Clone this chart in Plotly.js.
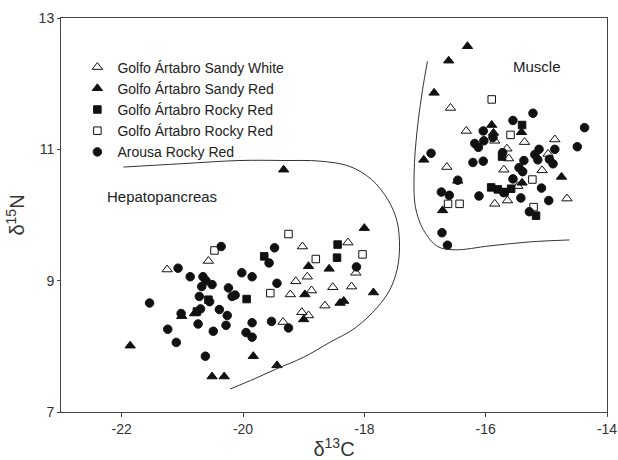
<!DOCTYPE html>
<html>
<head>
<meta charset="utf-8">
<script src="https://cdn.plot.ly/plotly-3.0.1.min.js"></script>
<style>html,body{margin:0;padding:0;background:#fff}#chart{width:618px;height:460px}</style>
</head>
<body>
<div id="chart"></div>
<script>
// Golfo Ártabro Sandy White (open triangles)
const sandyWhiteX = [-20.57,-21.25,-19.02,-18.94,-19.13,-19.22,-18.87,-18.52,-18.21,-18.65,-19.03,-18.92,-19.34,-18.27,-18.14,
  -16.58,-16.32,-15.85,-16.64,-15.85,-15.36,-14.86,-15.65,-15.62,-14.97,-15.70,-15.07,-15.47,-15.64,-14.66];
const sandyWhiteY = [9.30,9.17,9.52,9.06,8.99,8.79,8.85,8.90,8.91,8.62,8.52,8.47,8.37,9.58,9.12,
  11.63,11.28,11.13,10.73,10.17,11.11,11.15,11.01,10.86,10.93,10.69,10.68,10.44,10.22,10.25];
// Golfo Ártabro Sandy Red (filled triangles)
const sandyRedX = [-19.33,-18.00,-18.92,-18.58,-18.98,-17.85,-18.40,-18.34,-19.00,-20.80,-21.01,-21.86,-19.83,-20.51,-20.31,-19.44,
  -16.30,-16.61,-16.85,-15.90,-15.87,-17.02,-16.71,-15.41,-14.75,-15.40,-16.46];
const sandyRedY = [10.69,9.80,9.22,9.18,8.79,8.82,8.66,8.69,8.41,8.50,8.46,8.01,7.85,7.54,7.54,7.71,
  12.57,12.35,11.86,11.37,11.25,10.84,10.07,11.26,10.58,10.49,10.52];
// Golfo Ártabro Rocky Red (filled squares)
const rockyRedFX = [-20.57,-20.76,-19.94,-19.65,-18.44,-18.45,
  -15.40,-15.73,-15.91,-15.80,-15.69,-15.58,-15.17];
const rockyRedFY = [8.71,8.53,8.72,9.37,9.55,9.35,
  11.37,10.89,10.42,10.39,10.35,10.40,9.99];
// Golfo Ártabro Rocky Red (open squares)
const rockyRedOX = [-20.47,-19.25,-18.80,-18.03,-19.55,
  -15.90,-15.59,-16.62,-16.43,-15.23,-15.21];
const rockyRedOY = [9.46,9.71,9.33,9.40,8.81,
  11.76,11.22,10.17,10.17,10.54,10.12];
// Arousa Rocky Red (filled circles)
const arousaX = [-20.36,-21.07,-20.87,-20.66,-20.61,-20.68,-20.51,-20.24,-20.02,-19.85,-21.54,-20.72,-20.55,-20.18,-20.13,-20.39,-20.70,
  -21.02,-20.26,-20.74,-20.28,-19.85,-21.24,-20.49,-19.95,-19.85,-21.10,-20.62,-19.48,-19.57,-19.44,-19.53,-19.25,-18.13,
  -15.22,-15.55,-16.04,-15.88,-16.03,-16.18,-16.12,-16.90,-16.21,-16.04,-16.46,-16.73,-16.60,-16.11,-16.72,-16.63,
  -14.37,-14.49,-14.86,-15.12,-15.72,-15.19,-15.14,-14.95,-14.89,-15.37,-15.45,-15.39,-15.55,-15.70,-15.08,-15.42,-14.96,-15.28];
const arousaY = [9.52,9.19,9.06,9.06,9.00,8.91,8.94,8.89,9.12,9.06,8.66,8.76,8.68,8.76,8.78,8.56,8.57,
  8.50,8.47,8.34,8.32,8.36,8.26,8.23,8.21,8.14,8.06,7.85,9.50,9.27,8.96,8.38,8.28,9.21,
  11.55,11.44,11.28,11.18,11.13,11.09,11.03,10.94,10.80,10.82,10.53,10.35,10.30,10.29,9.73,9.54,
  11.33,11.04,11.00,11.00,10.95,10.92,10.84,10.85,10.78,10.83,10.72,10.66,10.55,10.34,10.41,10.26,10.22,10.05];
// Hand-drawn group boundaries
const hepatoX = [-21.97,-21.03,-20.05,-19.31,-18.73,-18.24,-17.88,-17.61,-17.46,-17.42,-17.46,-17.58,-17.79,-18.15,-18.57,-19.01,-19.44,-19.80,-20.21];
const hepatoY = [10.73,10.78,10.83,10.83,10.82,10.74,10.54,10.23,9.90,9.50,9.17,8.86,8.59,8.28,8.06,7.83,7.66,7.51,7.35];
const muscleX = [-16.96,-17.04,-17.11,-17.16,-17.18,-17.16,-17.03,-16.79,-16.51,-15.93,-15.28,-14.62];
const muscleY = [12.34,11.91,11.45,10.99,10.61,10.13,9.78,9.52,9.47,9.53,9.59,9.62];
const xTicks = [-22,-20,-18,-16,-14];
const yTicks = [7,9,11,13];

const ink = '#111';
const FONT = 'Liberation Sans, Arial, sans-serif';
function pts(x, y, name, symbol, size) {
  return {type:'scatter', mode:'markers', x:x, y:y, name:name,
    marker:{symbol:symbol, size:size, color:ink, line:{color:ink, width:1}}};
}
const traces = [
  pts(sandyWhiteX, sandyWhiteY, 'Golfo Ártabro Sandy White', 'triangle-up-open', 9),
  pts(sandyRedX, sandyRedY, 'Golfo Ártabro Sandy Red', 'triangle-up', 9),
  pts(rockyRedFX, rockyRedFY, 'Golfo Ártabro Rocky Red', 'square', 7.5),
  pts(rockyRedOX, rockyRedOY, 'Golfo Ártabro Rocky Red', 'square-open', 7.5),
  pts(arousaX, arousaY, 'Arousa Rocky Red', 'circle', 8.5),
  {type:'scatter', mode:'lines', x:hepatoX, y:hepatoY, line:{color:'#333', width:1, shape:'spline'}, showlegend:false, hoverinfo:'skip'},
  {type:'scatter', mode:'lines', x:muscleX, y:muscleY, line:{color:'#333', width:1, shape:'spline'}, showlegend:false, hoverinfo:'skip'}
];
const axisCommon = {showline:true, mirror:true, linecolor:'#444', linewidth:1, ticks:'outside', ticklen:4, tickcolor:'#444',
  showgrid:false, zeroline:false, tickfont:{family:FONT, size:14, color:'#333'}};
const layout = {
  width:618, height:460,
  margin:{l:60.5, r:10.5, t:18.3, b:47.7},
  paper_bgcolor:'#fff', plot_bgcolor:'#fff',
  showlegend:true,
  legend:{x:0.03, y:0.915, xanchor:'left', yanchor:'top', bgcolor:'rgba(0,0,0,0)', borderwidth:0,
    font:{family:FONT, size:14, color:'#222'}, tracegroupgap:0},
  xaxis:Object.assign({}, axisCommon, {range:[-23,-14], tickvals:xTicks, ticktext:xTicks.map(String),
    title:{text:'δ<sup>13</sup>C', font:{family:FONT, size:20, color:'#333'}, standoff:6}}),
  yaxis:Object.assign({}, axisCommon, {range:[7,13], tickvals:yTicks, ticktext:yTicks.map(String), ticklen:3,
    title:{text:'δ<sup>15</sup>N', font:{family:FONT, size:20, color:'#333'}, standoff:8}}),
  annotations:[
    {x:-21.34, y:10.28, xref:'x', yref:'y', text:'Hepatopancreas', showarrow:false, font:{family:FONT, size:15, color:'#222'}},
    {x:-15.16, y:12.26, xref:'x', yref:'y', text:'Muscle', showarrow:false, font:{family:FONT, size:15, color:'#222'}}
  ]
};
Plotly.newPlot('chart', traces, layout, {displayModeBar:false, staticPlot:true});
</script>
</body>
</html>
